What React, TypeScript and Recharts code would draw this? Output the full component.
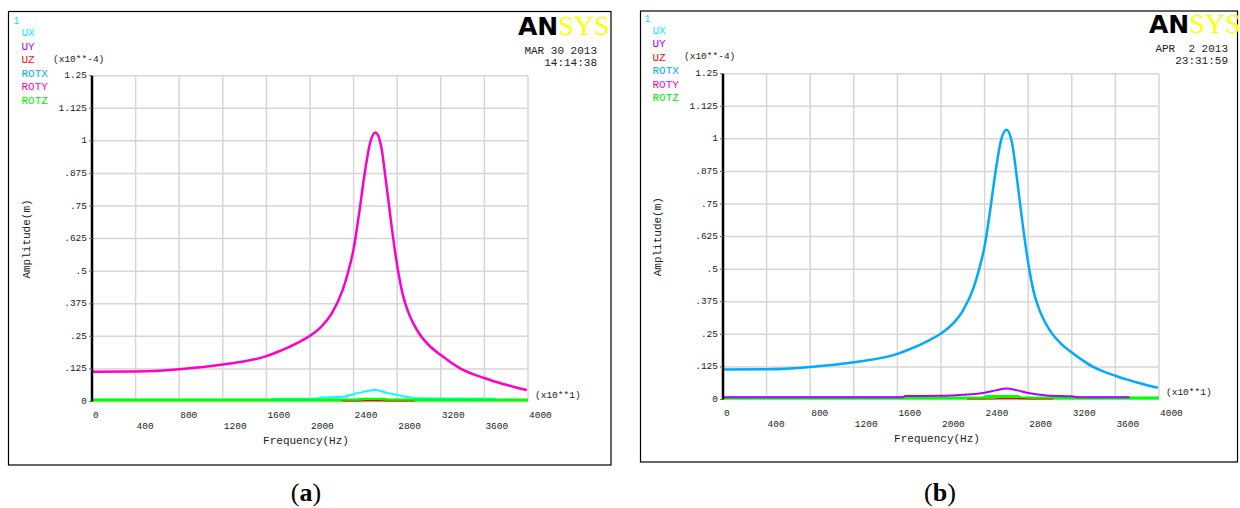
import React from "react";
import { LineChart, Line, XAxis, YAxis, CartesianGrid } from "recharts";

// axis ticks (frequency is shown x10**1, amplitude x10**-4)
const freqTicks = [0, 400, 800, 1200, 1600, 2000, 2400, 2800, 3200, 3600, 4000];
const ampTicks = [0, 0.125, 0.25, 0.375, 0.5, 0.625, 0.75, 0.875, 1, 1.125, 1.25];

const legendNames = ["UX", "UY", "UZ", "ROTX", "ROTY", "ROTZ"];
const legendColors = ["#00f0ff", "#b000ff", "#ff1010", "#00aaff", "#ff00c8", "#00ee00"];

// main resonance curve (ROTY in panel a, ROTX in panel b)
const mainFreq = [0, 400, 800, 1200, 1600, 1700, 1800, 1900, 2000, 2100, 2200, 2300, 2350, 2400, 2450, 2500, 2550, 2600, 2650, 2700, 2750, 2800, 2850, 2900, 2950, 3000, 3100, 3200, 3300, 3400, 3500, 3600, 3700, 3800, 3900, 3990];
const rotyA = [0.114, 0.115, 0.124, 0.142, 0.174, 0.19, 0.208, 0.228, 0.252, 0.285, 0.338, 0.428, 0.497, 0.585, 0.72, 0.87, 0.99, 1.032, 0.985, 0.835, 0.668, 0.522, 0.412, 0.345, 0.298, 0.262, 0.212, 0.178, 0.148, 0.122, 0.104, 0.09, 0.076, 0.064, 0.053, 0.044];
const rotxB = [0.115, 0.116, 0.125, 0.143, 0.175, 0.191, 0.209, 0.229, 0.253, 0.287, 0.34, 0.43, 0.5, 0.588, 0.723, 0.873, 0.993, 1.035, 0.988, 0.838, 0.67, 0.524, 0.414, 0.347, 0.3, 0.264, 0.214, 0.18, 0.15, 0.124, 0.106, 0.091, 0.077, 0.065, 0.054, 0.045];

// panel (a) small curves
const uxFreqA = [1650, 2050, 2100, 2300, 2370, 2460, 2600, 2700, 2800, 2900, 3000, 3700];
const uxA = [0.011, 0.011, 0.015, 0.018, 0.025, 0.034, 0.044, 0.034, 0.025, 0.017, 0.012, 0.011];
const rotxFreqA = [2400, 2450, 2550, 2650, 2750];
const rotxA = [0.004, 0.008, 0.01, 0.009, 0.004];
const rotzFreqA = [0, 2430, 2470, 2680, 2720, 4000];
const rotzA = [0.004, 0.004, 0.007, 0.007, 0.004, 0.004];
const uzFreqA = [2290, 2460, 2500, 2650, 2700, 2960];
const uzA = [0, 0, 0.003, 0.003, 0, 0];

// panel (b) small curves
const uyFreqB = [0, 1650, 1670, 2000, 2200, 2400, 2500, 2600, 2700, 2800, 2950, 3100, 3200, 3250, 3730];
const uyB = [0.009, 0.009, 0.013, 0.014, 0.018, 0.026, 0.035, 0.042, 0.035, 0.025, 0.016, 0.013, 0.012, 0.009, 0.009];
const rotzFreqB = [0, 2380, 2420, 2700, 2740, 4000];
const rotzB = [0.004, 0.004, 0.01, 0.01, 0.004, 0.004];
const uzFreqB = [2240, 2500, 2520, 2770, 2800, 3030];
const uzB = [0, 0, 0.003, 0.003, 0, 0];

const zip = (f: number[], v: number[]) => f.map((x, i) => ({ f: x, v: v[i] }));

const MONO = "'Liberation Mono', 'DejaVu Sans Mono', monospace";

const fmtAmp = (v: number) => {
  if (v === 0) return "0";
  const s = String(v);
  return s.startsWith("0.") ? s.slice(1) : s;
};

const AmpTick = (props: any) => {
  const { x, y, payload } = props;
  return (
    <text x={x} y={y} textAnchor="end" dominantBaseline="central" fontFamily={MONO} fontSize={9.5} fill="#222">
      {fmtAmp(payload.value)}
    </text>
  );
};

const FreqTick = (props: any) => {
  const { x, y, payload, index } = props;
  return (
    <text x={x + 1} y={y + (index % 2 ? 25 : 13.5)} textAnchor="start" dominantBaseline="central" fontFamily={MONO} fontSize={9.5} fill="#222">
      {payload.value}
    </text>
  );
};

type Series = { data: { f: number; v: number }[]; color: string; width: number };

const Plot = ({ left, top, series }: { left: number; top: number; series: Series[] }) => (
  <div style={{ position: "absolute", left, top }}>
    <LineChart width={620} height={470} margin={{ top: 75.7, left: 32, right: 92, bottom: 38.5 }}>
      <CartesianGrid stroke="#d6d6d6" strokeWidth={1.5} />
      <XAxis
        type="number"
        dataKey="f"
        domain={[0, 4000]}
        ticks={freqTicks}
        interval={0}
        height={30}
        tickSize={0}
        tickMargin={0}
        tickLine={false}
        axisLine={false}
        tick={<FreqTick />}
        allowDataOverflow
      />
      <YAxis
        type="number"
        domain={[0, 1.25]}
        ticks={ampTicks}
        interval={0}
        width={60}
        tickSize={3}
        tickMargin={2}
        tickLine={{ stroke: "#666" }}
        axisLine={{ stroke: "#000", strokeWidth: 2.5 }}
        tick={<AmpTick />}
        allowDataOverflow
      />
      {series.map((s, i) => (
        <Line
          key={i}
          data={s.data}
          dataKey="v"
          type="monotone"
          stroke={s.color}
          strokeWidth={s.width}
          dot={false}
          activeDot={false}
          isAnimationActive={false}
        />
      ))}
    </LineChart>
  </div>
);

const seriesA: Series[] = [
  { data: zip(uxFreqA, uxA), color: "#00ffff", width: 2 },
  { data: zip(rotxFreqA, rotxA), color: "#00aaff", width: 2 },
  { data: zip(rotzFreqA, rotzA), color: "#00ff00", width: 4 },
  { data: zip(uzFreqA, uzA), color: "#ff0000", width: 1.5 },
  { data: zip(mainFreq, rotyA), color: "#ff00c8", width: 2.5 },
];

const seriesB: Series[] = [
  { data: zip(rotzFreqB, rotzB), color: "#00ff00", width: 4 },
  { data: zip(uyFreqB, uyB), color: "#b000ff", width: 2 },
  { data: zip(uzFreqB, uzB), color: "#ff0000", width: 1.5 },
  { data: zip(mainFreq, rotxB), color: "#00aaff", width: 2.5 },
];

const PanelText = ({ dx, dy, date, time }: { dx: number; dy: number; date: string; time: string }) => (
  <g transform={`translate(${dx},${dy})`} fontFamily={MONO}>
    <text x={13} y={21} dominantBaseline="central" fontSize={11} fill="#30d8ff">1</text>
    {legendNames.map((n, i) => (
      <text key={n} x={21.5} y={33.3 + i * 13.5} dominantBaseline="central" fontSize={11} fill={legendColors[i]}>
        {n}
      </text>
    ))}
    <text x={53} y={59} dominantBaseline="central" fontSize={9.5} fill="#222">(x10**-4)</text>
    <text x={535} y={395} dominantBaseline="central" fontSize={9.5} fill="#222">(x10**1)</text>
    <text x={306} y={441} textAnchor="middle" dominantBaseline="central" fontSize={11} fill="#222">Frequency(Hz)</text>
    <text
      x={27}
      y={239}
      textAnchor="middle"
      dominantBaseline="central"
      fontSize={11}
      fill="#222"
      transform="rotate(-90 27 239)"
    >
      Amplitude(m)
    </text>
    <text x={597} y={51} textAnchor="end" dominantBaseline="central" fontSize={11} fill="#222" style={{ whiteSpace: "pre" }}>
      {date}
    </text>
    <text x={597} y={63} textAnchor="end" dominantBaseline="central" fontSize={11} fill="#222">{time}</text>
    <text x={518} y={35}>
      <tspan fontFamily="'DejaVu Sans', sans-serif" fontWeight={900} fontSize={25} fill="#000">AN</tspan>
      <tspan fontFamily="'Liberation Serif', serif" fontSize={28} fill="#ffff00">SYS</tspan>
    </text>
  </g>
);

export default function App() {
  return (
    <div style={{ position: "relative", width: 1240, height: 508, background: "#fff", overflow: "hidden" }}>
      <style>{`body{margin:0}`}</style>
      <Plot left={0} top={0} series={seriesA} />
      <Plot left={631} top={-2.3} series={seriesB} />
      <svg width={1240} height={508} style={{ position: "absolute", left: 0, top: 0, pointerEvents: "none" }}>
        <rect x={8.5} y={11.5} width={602.5} height={453.5} fill="none" stroke="#000" strokeWidth={1.2} />
        <rect x={640.5} y={11} width={597} height={451} fill="none" stroke="#000" strokeWidth={1.2} />
        <PanelText dx={0} dy={0} date="MAR 30 2013" time="14:14:38" />
        <PanelText dx={631} dy={-2.3} date="APR  2 2013" time="23:31:59" />
        <text x={306} y={501} textAnchor="middle" fontFamily="'Liberation Serif', serif" fontSize={26} fill="#000">
          (<tspan fontWeight="bold">a</tspan>)
        </text>
        <text x={940} y={501} textAnchor="middle" fontFamily="'Liberation Serif', serif" fontSize={26} fill="#000">
          (<tspan fontWeight="bold">b</tspan>)
        </text>
      </svg>
    </div>
  );
}
